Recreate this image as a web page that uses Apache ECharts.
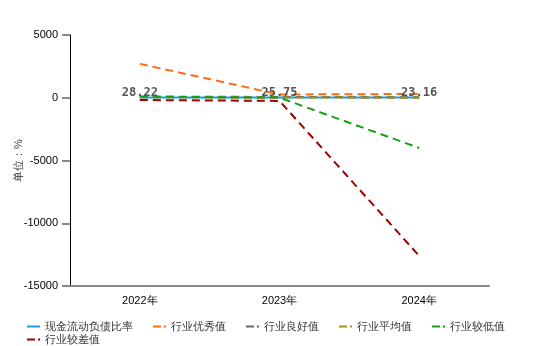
<!DOCTYPE html>
<html>
<head>
<meta charset="utf-8">
<script src="https://cdn.jsdelivr.net/npm/echarts@6/dist/echarts.min.js"></script>
<style>
html,body{margin:0;padding:0;background:#fff;}
#chart{width:560px;height:346px;}
</style>
</head>
<body>
<div id="chart"></div>
<script>
// Years and indicator values (%)
const years = ['2022年', '2023年', '2024年'];
const ratio = [28.22, 25.75, 23.16];        // 现金流动负债比率
const excellent = [2700, 260, 300];          // 行业优秀值
const good = [100, 60, 40];                  // 行业良好值
const average = [40, 20, 0];                 // 行业平均值
const low = [80, 10, -4000];                 // 行业较低值
const poor = [-180, -250, -12600];           // 行业较差值

const chart = echarts.init(document.getElementById('chart'));

const dashIcon = 'path://M0,5H8V7H0ZM11,5H13V7H11Z';
const solidIcon = 'path://M0,5H13V7H0Z';

function dashed(name, data, color) {
  return {
    name: name, type: 'line', data: data, symbol: 'none',
    lineStyle: { color: color, width: 2, type: [8, 5] },
    itemStyle: { color: color }
  };
}

const legendBase = {
  orient: 'horizontal', left: 27, padding: 0, itemGap: 20,
  itemWidth: 13, itemHeight: 12, itemStyle: { borderWidth: 0 },
  textStyle: { fontSize: 11, color: '#333' }
};

chart.setOption({
  animation: false,
  grid: { left: 70, right: 71, top: 35, bottom: 60, containLabel: false, outerBoundsMode: 'none' },
  legend: [
    Object.assign({}, legendBase, {
      top: 321,
      data: [
        { name: '现金流动负债比率', icon: solidIcon },
        { name: '行业优秀值', icon: dashIcon },
        { name: '行业良好值', icon: dashIcon },
        { name: '行业平均值', icon: dashIcon },
        { name: '行业较低值', icon: dashIcon }
      ]
    }),
    Object.assign({}, legendBase, {
      top: 334,
      data: [{ name: '行业较差值', icon: dashIcon }]
    })
  ],
  xAxis: {
    type: 'category', data: years, boundaryGap: true,
    axisLine: { onZero: false, lineStyle: { color: '#888', width: 2 } },
    axisTick: { lineStyle: { color: '#000' }, length: 6 },
    axisLabel: { color: '#000', fontSize: 11, margin: 9 }
  },
  yAxis: {
    type: 'value', min: -15000, max: 5000, interval: 5000,
    name: '单位：%', nameLocation: 'middle', nameGap: 46, nameMoveOverlap: false,
    nameTextStyle: { color: '#333', fontSize: 11 },
    axisLine: { show: true, lineStyle: { color: '#000' } },
    axisTick: { show: true, lineStyle: { color: '#888', width: 2 }, length: 8 },
    axisLabel: { color: '#000', fontSize: 11, margin: 12, formatter: v => String(v) },
    splitLine: { show: false }
  },
  series: [
    {
      name: '现金流动负债比率', type: 'line', data: ratio,
      symbol: 'circle', symbolSize: 0,
      lineStyle: { color: '#1a9ee0', width: 2 }, itemStyle: { color: '#1a9ee0' },
      label: {
        show: true, position: 'top', distance: 0, offset: [0, 1],
        fontFamily: 'DejaVu Sans Mono', fontWeight: 'bold', fontSize: 12, color: '#555'
      }
    },
    dashed('行业优秀值', excellent, '#ff6a13'),
    dashed('行业良好值', good, '#666666'),
    dashed('行业平均值', average, '#a89016'),
    dashed('行业较低值', low, '#17a017'),
    dashed('行业较差值', poor, '#a00000')
  ]
});
</script>
</body>
</html>
